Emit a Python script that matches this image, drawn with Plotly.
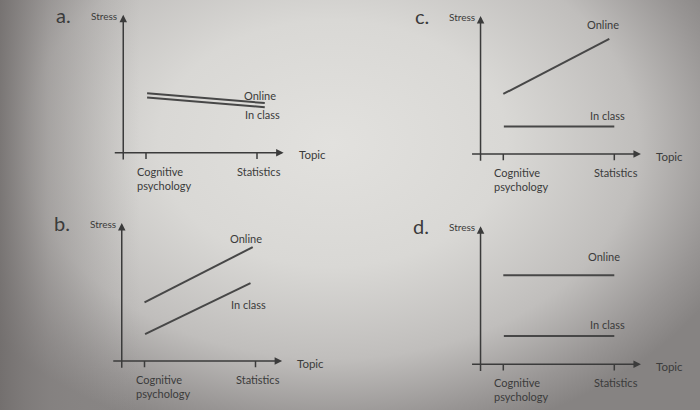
import plotly.graph_objects as go

# ---------------- data ----------------
categories = ["Cognitive<br>psychology", "Statistics"]
series_names = ["Online", "In class"]
panel_letters = ["a.", "b.", "c.", "d."]

online_a = [4.3, 3.6]
inclass_a = [4.0, 3.3]
online_b = [4.25, 8.25]
inclass_b = [1.95, 5.65]
online_c = [4.35, 8.35]
inclass_c = [2.0, 2.0]
online_d = [6.45, 6.45]
inclass_d = [2.05, 2.05]

axis_y_title = "Stress"
axis_x_title = "Topic"

# ---------------- layout / style ----------------
W, H = 700, 410
S = 111.0    # px per topic unit
SY = 13.8    # px per stress unit
XR = [-0.45, 1.5]
YR = [-2.5, 11.0]
INK = "#3b3b3b"
LINE = "#474747"
FONT = "Lato"

# per panel: pixel of Cognitive tick, pixel of x-axis, line x extents, label positions
panels = [
    dict(letter=panel_letters[0], online=online_a, inclass=inclass_a, px0=146, py0=152.7,
         on_x=[0.01, 1.07], in_x=[0.01, 1.07], on_lab=(1.03, 4.17), in_lab=(1.045, 2.75)),
    dict(letter=panel_letters[1], online=online_b, inclass=inclass_b, px0=144.5, py0=361,
         on_x=[0.0, 0.975], in_x=[0.005, 0.955], on_lab=(0.91, 8.91), in_lab=(0.94, 4.13)),
    dict(letter=panel_letters[2], online=online_c, inclass=inclass_c, px0=503.3, py0=154,
         on_x=[0.0, 0.955], in_x=[0.005, 1.0], on_lab=(0.90, 9.42), in_lab=(0.94, 2.78)),
    dict(letter=panel_letters[3], online=online_d, inclass=inclass_d, px0=503.3, py0=364.3,
         on_x=[0.0, 1.0], in_x=[0.005, 1.0], on_lab=(0.91, 7.82), in_lab=(0.94, 2.86)),
]

YAX_X = -0.205
XAX_FROM, XAX_TO = -0.295, 1.24
YAX_FROM, YAX_TO = -0.6, 10.0

fig = go.Figure()

# photo-like background (vignette)
fig.add_trace(go.Scatter(
    x=[-0.15, 1.1, 1.1, -0.15, -0.15], y=[-0.1, -0.1, 1.4, 1.4, -0.1],
    mode="lines", fill="toself", line=dict(width=0),
    fillgradient=dict(type="radial",
                      colorscale=[[0, "#e2e1de"], [0.4, "#d9d8d5"], [0.7, "#c0bebc"],
                                  [0.9, "#989594"], [1, "#868382"]]),
    hoverinfo="skip", showlegend=False, xaxis="x", yaxis="y"))
# darker left edge of the photo
fig.add_trace(go.Scatter(
    x=[0, 0.2, 0.2, 0, 0], y=[0, 0, 1, 1, 0],
    mode="lines", fill="toself", line=dict(width=0),
    fillgradient=dict(type="horizontal", start=0, stop=0.2,
                      colorscale=[[0, "rgba(112,108,107,0.85)"], [0.35, "rgba(130,126,125,0.45)"],
                                  [1, "rgba(150,147,146,0)"]]),
    hoverinfo="skip", showlegend=False, xaxis="x", yaxis="y"))
layout_axes = dict(
    xaxis=dict(domain=[0, 1], range=[0, 1], visible=False, fixedrange=True),
    yaxis=dict(domain=[0, 1], range=[0, 1], visible=False, fixedrange=True),
)

annotations = []
shapes = []
font_small = dict(family=FONT, size=11, color=INK)

for i, p in enumerate(panels):
    k = i + 2
    xa, ya = f"x{k}", f"y{k}"
    left = p["px0"] + XR[0] * S
    right = p["px0"] + XR[1] * S
    top = p["py0"] - YR[1] * SY
    bottom = p["py0"] - YR[0] * SY
    layout_axes[f"xaxis{k}"] = dict(domain=[left / W, right / W], range=XR, visible=False,
                                    fixedrange=True, anchor=ya)
    layout_axes[f"yaxis{k}"] = dict(domain=[1 - bottom / H, 1 - top / H], range=YR, visible=False,
                                    fixedrange=True, anchor=xa)

    # series lines
    for name, vals, xs in [(series_names[0], p["online"], p["on_x"]),
                           (series_names[1], p["inclass"], p["in_x"])]:
        fig.add_trace(go.Scatter(x=xs, y=vals, mode="lines", name=name,
                                 line=dict(color=LINE, width=2), hoverinfo="skip",
                                 showlegend=False, xaxis=xa, yaxis=ya))

    # axes with arrows
    annotations.append(dict(x=YAX_X, y=YAX_TO, ax=YAX_X, ay=YAX_FROM, xref=xa, yref=ya,
                            axref=xa, ayref=ya, text="", showarrow=True, arrowhead=2,
                            arrowsize=1, arrowwidth=1.5, arrowcolor=INK, standoff=0))
    annotations.append(dict(x=XAX_TO, y=0, ax=XAX_FROM, ay=0, xref=xa, yref=ya,
                            axref=xa, ayref=ya, text="", showarrow=True, arrowhead=2,
                            arrowsize=1, arrowwidth=1.5, arrowcolor=INK, standoff=0))
    # ticks
    for tv in (0, 1):
        shapes.append(dict(type="line", xref=xa, yref=ya, x0=tv, x1=tv, y0=0, y1=-0.45,
                           line=dict(color=INK, width=1.5)))
    # tick labels
    annotations.append(dict(x=0, y=0, xref=xa, yref=ya, text=categories[0], showarrow=False,
                            xanchor="left", yanchor="top", align="left", xshift=-11, yshift=-10,
                            font=font_small))
    annotations.append(dict(x=1, y=0, xref=xa, yref=ya, text=categories[1], showarrow=False,
                            xanchor="center", yanchor="top", xshift=2, yshift=-10,
                            font=font_small))
    # axis titles
    annotations.append(dict(x=XAX_TO, y=0, xref=xa, yref=ya, text=axis_x_title, showarrow=False,
                            xanchor="left", yanchor="middle", xshift=13, yshift=-2,
                            font=dict(family=FONT, size=11.5, color=INK)))
    annotations.append(dict(x=YAX_X, y=YAX_TO, xref=xa, yref=ya, text=axis_y_title, showarrow=False,
                            xanchor="right", yanchor="middle", xshift=-4, yshift=-1,
                            font=dict(family=FONT, size=10, color=INK)))
    # panel letter
    annotations.append(dict(x=YAX_X, y=YAX_TO, xref=xa, yref=ya, text=p["letter"], showarrow=False,
                            xanchor="right", yanchor="middle", xshift=-50, yshift=0,
                            font=dict(family=FONT, size=20, color=INK)))
    # series labels
    for name, pos in [(series_names[0], p["on_lab"]), (series_names[1], p["in_lab"])]:
        annotations.append(dict(x=pos[0], y=pos[1], xref=xa, yref=ya, text=name, showarrow=False,
                                xanchor="center", yanchor="middle", font=font_small))

fig.update_layout(
    width=W, height=H, margin=dict(l=0, r=0, t=0, b=0),
    paper_bgcolor="#cfcdcb", plot_bgcolor="rgba(0,0,0,0)",
    showlegend=False, annotations=annotations, shapes=shapes,
    **layout_axes,
)

fig.write_html("out.html", config={"displayModeBar": False},
               post_script="document.body.style.margin='0';")
